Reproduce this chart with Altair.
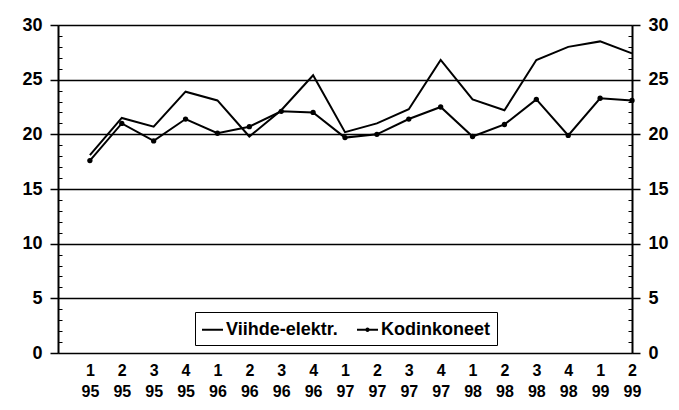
import json
import altair as alt
import pandas as pd

# ---- data ----
quarters = ["1", "2", "3", "4", "1", "2", "3", "4", "1", "2", "3", "4",
            "1", "2", "3", "4", "1", "2"]
years = ["95", "95", "95", "95", "96", "96", "96", "96", "97", "97", "97", "97",
         "98", "98", "98", "98", "99", "99"]
series_names = ["Viihde-elektr.", "Kodinkoneet"]
viihde = [18.1, 21.5, 20.7, 23.9, 23.1, 19.8, 22.2, 25.4, 20.2, 21.0, 22.3, 26.8,
          23.2, 22.2, 26.8, 28.0, 28.5, 27.4]
kodin = [17.6, 21.0, 19.4, 21.4, 20.1, 20.7, 22.1, 22.0, 19.7, 20.0, 21.4, 22.5,
         19.8, 20.9, 23.2, 19.9, 23.3, 23.1]
y_major = [0, 5, 10, 15, 20, 25, 30]
y_minor = list(range(0, 31))

rows = []
for i in range(len(quarters)):
    rows.append({"q": i + 1, "series": series_names[0], "value": viihde[i]})
for i in range(len(quarters)):
    rows.append({"q": i + 1, "series": series_names[1], "value": kodin[i]})
df = pd.DataFrame(rows)

FONT = "Liberation Sans, Arial, sans-serif"
W, H = 574, 328

pairs = json.dumps([[q, y] for q, y in zip(quarters, years)])
label_expr = f"{pairs}[datum.value - 1]"

x_enc = alt.X(
    "q:Q",
    scale=alt.Scale(domain=[0, len(quarters)], nice=False, zero=False),
    axis=alt.Axis(
        values=list(range(1, len(quarters) + 1)), labelExpr=label_expr,
        ticks=False, domain=False, grid=False, title=None,
        labelFont=FONT, labelFontSize=16, labelFontWeight="bold",
        labelLineHeight=21, labelPadding=9, labelColor="black",
        labelAngle=0, labelFlush=False, labelOverlap=False,
    ),
)
y_scale = alt.Scale(domain=[0, 30], nice=False, zero=True)

major_common = dict(
    values=y_major, tickSize=8, tickColor="black", tickWidth=1.5,
    domain=True, domainColor="black", domainWidth=2, title=None,
    labelFont=FONT, labelFontSize=18, labelFontWeight="bold",
    labelColor="black", labelPadding=8,
)
minor_common = dict(
    values=y_minor, tickSize=4, tickColor="black", tickWidth=1,
    domain=False, grid=False, labels=False, title=None, offset=-W,
)

sym_expr = ("datum.value == 'Kodinkoneet' ? "
            "'M-1,0H1M-0.12,0A0.12,0.12,0,1,1,0.12,0A0.12,0.12,0,1,1,-0.12,0' "
            ": 'M-1,0H1'")

legend = alt.Legend(
    orient="none", legendX=137, legendY=287, direction="horizontal",
    title=None, strokeColor="black", padding=6, fillColor="white",
    symbolType=alt.ExprRef(expr=sym_expr), symbolSize=441,
    symbolStrokeWidth=2, symbolFillColor="black",
    labelFont=FONT, labelFontSize=18, labelFontWeight="bold",
    labelColor="black", labelOffset=2, columnPadding=15,
)

lines = alt.Chart(df).mark_line(strokeWidth=2).encode(
    x=x_enc,
    y=alt.Y("value:Q", scale=y_scale,
            axis=alt.Axis(orient="left", grid=True, gridColor="black",
                          gridWidth=1.5, **major_common)),
    color=alt.Color("series:N",
                    scale=alt.Scale(domain=series_names, range=["black", "black"]),
                    legend=legend),
)

points = alt.Chart(df).transform_filter(
    alt.datum.series == series_names[1]
).mark_point(filled=True, size=28, opacity=1, color="black").encode(
    x=x_enc,
    y=alt.Y("value:Q", scale=y_scale,
            axis=alt.Axis(orient="right", grid=False, **major_common)),
)

minor_left = alt.Chart(df).mark_point(opacity=0).encode(
    x=x_enc,
    y=alt.Y("value:Q", scale=y_scale, axis=alt.Axis(orient="right", **minor_common)),
)
minor_right = alt.Chart(df).mark_point(opacity=0).encode(
    x=x_enc,
    y=alt.Y("value:Q", scale=y_scale, axis=alt.Axis(orient="left", **minor_common)),
)

chart = alt.layer(lines, points, minor_left, minor_right).resolve_scale(
    y="shared"
).resolve_axis(y="independent").properties(
    width=W, height=H,
    autosize=alt.AutoSizeParams(type="none"),
    padding={"left": 50, "top": 17, "right": 39, "bottom": 49},
    background="white",
).configure_view(stroke=None)

chart.save("out.html", embed_options={"renderer": "svg", "actions": False})
